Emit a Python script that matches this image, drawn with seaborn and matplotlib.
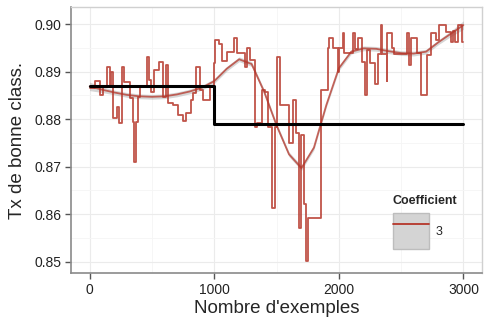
# Taux de bonne classification selon le nombre d'exemples
import seaborn as sns
import matplotlib.pyplot as plt
import pandas as pd
from matplotlib.lines import Line2D
from matplotlib.patches import Patch
from matplotlib.legend_handler import HandlerTuple
from matplotlib.ticker import MultipleLocator

# Courbe en escalier (coefficient 3)
step_x = [0, 40, 85, 105, 140, 160, 175, 190, 220, 235,
          260, 275, 325, 345, 355, 370, 385, 405, 460, 475,
          495, 520, 555, 585, 610, 630, 670, 710, 750, 775,
          815, 830, 855, 885, 910, 970, 1000, 1010, 1040, 1065,
          1105, 1160, 1185, 1245, 1265, 1285, 1325, 1340, 1380, 1405,
          1435, 1460, 1485, 1500, 1525, 1600, 1635, 1660, 1680, 1695,
          1720, 1735, 1750, 1855, 1910, 1920, 1950, 1990, 2000, 2030,
          2040, 2110, 2130, 2155, 2185, 2210, 2225, 2250, 2290, 2315,
          2335, 2345, 2385, 2390, 2425, 2445, 2550, 2565, 2580, 2630,
          2660, 2710, 2740, 2780, 2800, 2860, 2900, 2920, 2935, 2960,
          2985, 3000]
step_y = [0.8865, 0.8880, 0.8850, 0.8868, 0.8910, 0.8871, 0.8900, 0.8802, 0.8825, 0.8791,
          0.8910, 0.8878, 0.8844, 0.8794, 0.8709, 0.8794, 0.8847, 0.8868, 0.8931, 0.8882,
          0.8857, 0.8903, 0.8920, 0.8847, 0.8915, 0.8833, 0.8829, 0.8808, 0.8797, 0.8812,
          0.8840, 0.8856, 0.8910, 0.8862, 0.8840, 0.8868, 0.8918, 0.8966, 0.8958, 0.8922,
          0.8941, 0.8970, 0.8939, 0.8910, 0.8949, 0.8924, 0.8783, 0.8791, 0.8861, 0.8857,
          0.8783, 0.8612, 0.8784, 0.8931, 0.8829, 0.8749, 0.8840, 0.8770, 0.8570, 0.8766,
          0.8622, 0.8502, 0.8591, 0.8861, 0.8949, 0.8970, 0.8949, 0.8899, 0.8949, 0.8981,
          0.8939, 0.8981, 0.8947, 0.8970, 0.8920, 0.8850, 0.8945, 0.8918, 0.8875, 0.8938,
          0.8998, 0.8938, 0.8880, 0.8981, 0.8950, 0.8938, 0.8981, 0.8913, 0.8970, 0.8940,
          0.8850, 0.8935, 0.8981, 0.8966, 0.8998, 0.8983, 0.8962, 0.8985, 0.8962, 0.8998,
          0.8962]

# Courbe lissée (loess) et sa bande de confiance
smooth_x = list(range(0, 3001, 100))
smooth_y = [0.8869, 0.8862, 0.8856, 0.8851, 0.8848, 0.8847, 0.8848, 0.8852, 0.8858, 0.8866,
            0.8880, 0.8906, 0.8926, 0.8916, 0.8858, 0.8787, 0.8726, 0.8697, 0.8740, 0.8830,
            0.8907, 0.8942, 0.8949, 0.8948, 0.8943, 0.8939, 0.8938, 0.8942, 0.8962, 0.8980,
            0.8998]
smooth_se = [0.0009, 0.0006, 0.0005, 0.0005, 0.0005, 0.0005, 0.0005, 0.0005, 0.0005, 0.0005,
             0.0005, 0.0005, 0.0005, 0.0005, 0.0005, 0.0005, 0.0005, 0.0005, 0.0005, 0.0005,
             0.0005, 0.0005, 0.0005, 0.0005, 0.0005, 0.0005, 0.0005, 0.0005, 0.0005, 0.0006,
             0.0009]

# Référence (ligne noire)
ref_x = [0, 1000, 3000]
ref_y = [0.887, 0.879, 0.879]

df_step = pd.DataFrame({'x': step_x, 'y': step_y + [step_y[-1]]})
df_smooth = pd.DataFrame({'x': smooth_x, 'y': smooth_y, 'se': smooth_se})
df_ref = pd.DataFrame({'x': ref_x, 'y': ref_y})

sns.set_style("white")
plt.rcParams['font.family'] = ['Liberation Sans', 'DejaVu Sans']

fig = plt.figure(figsize=(4.86, 3.19), dpi=100)
ax = fig.add_axes([0.146, 0.144, 0.846, 0.834])

red = '#B5362A'

sns.lineplot(data=df_step, x='x', y='y', ax=ax, color=red, alpha=0.85,
             linewidth=1.3, drawstyle='steps-post', legend=False)

ax.fill_between(df_smooth['x'], df_smooth['y'] - df_smooth['se'],
                df_smooth['y'] + df_smooth['se'], color='#999999', alpha=0.4, lw=0)
sns.lineplot(data=df_smooth, x='x', y='y', ax=ax, color=red, alpha=0.75,
             linewidth=1.3, legend=False)

sns.lineplot(data=df_ref, x='x', y='y', ax=ax, color='black',
             linewidth=2.2, drawstyle='steps-post', legend=False)

ax.set_xlim(-150, 3150)
ax.set_ylim(0.8476, 0.9036)
ax.set_xticks([0, 1000, 2000, 3000])
ax.set_yticks([0.85, 0.86, 0.87, 0.88, 0.89, 0.90])
ax.set_yticklabels(['0.85', '0.86', '0.87', '0.88', '0.89', '0.90'])
ax.xaxis.set_minor_locator(MultipleLocator(500))
ax.yaxis.set_minor_locator(MultipleLocator(0.005))

ax.grid(True, which='major', color='#EBEBEB', linewidth=0.8)
ax.grid(True, which='minor', color='#F5F5F5', linewidth=0.6)
ax.set_axisbelow(True)

ax.tick_params(axis='both', which='major', direction='out', length=4, width=1,
               color='#555555', labelsize=10, labelcolor='#222222', pad=3,
               left=True, bottom=True)
ax.tick_params(which='minor', length=0)

for side in ['top', 'right']:
    ax.spines[side].set_color('#D0D0D0')
    ax.spines[side].set_linewidth(1.0)
for side in ['left', 'bottom']:
    ax.spines[side].set_color('#8A8A8A')
    ax.spines[side].set_linewidth(1.2)

ax.set_xlabel("Nombre d'exemples", fontsize=13.5, labelpad=2)
ax.set_ylabel("Tx de bonne class.", fontsize=13.5, labelpad=6)

handle = (Patch(facecolor='#D4D4D4', edgecolor='#BDBDBD'),
          Line2D([], [], color=red, linewidth=1.3))
leg = ax.legend([handle], ['3'], title='Coefficient', loc='upper left',
                bbox_to_anchor=(0.755, 0.335), frameon=False,
                handler_map={tuple: HandlerTuple(ndivide=1, pad=0)},
                handlelength=2.9, handleheight=4.0, handletextpad=0.5,
                fontsize=9, title_fontsize=9)
leg.get_title().set_fontweight('bold')
leg._legend_box.align = 'left'

plt.savefig('out.png', dpi=100, facecolor='white')
